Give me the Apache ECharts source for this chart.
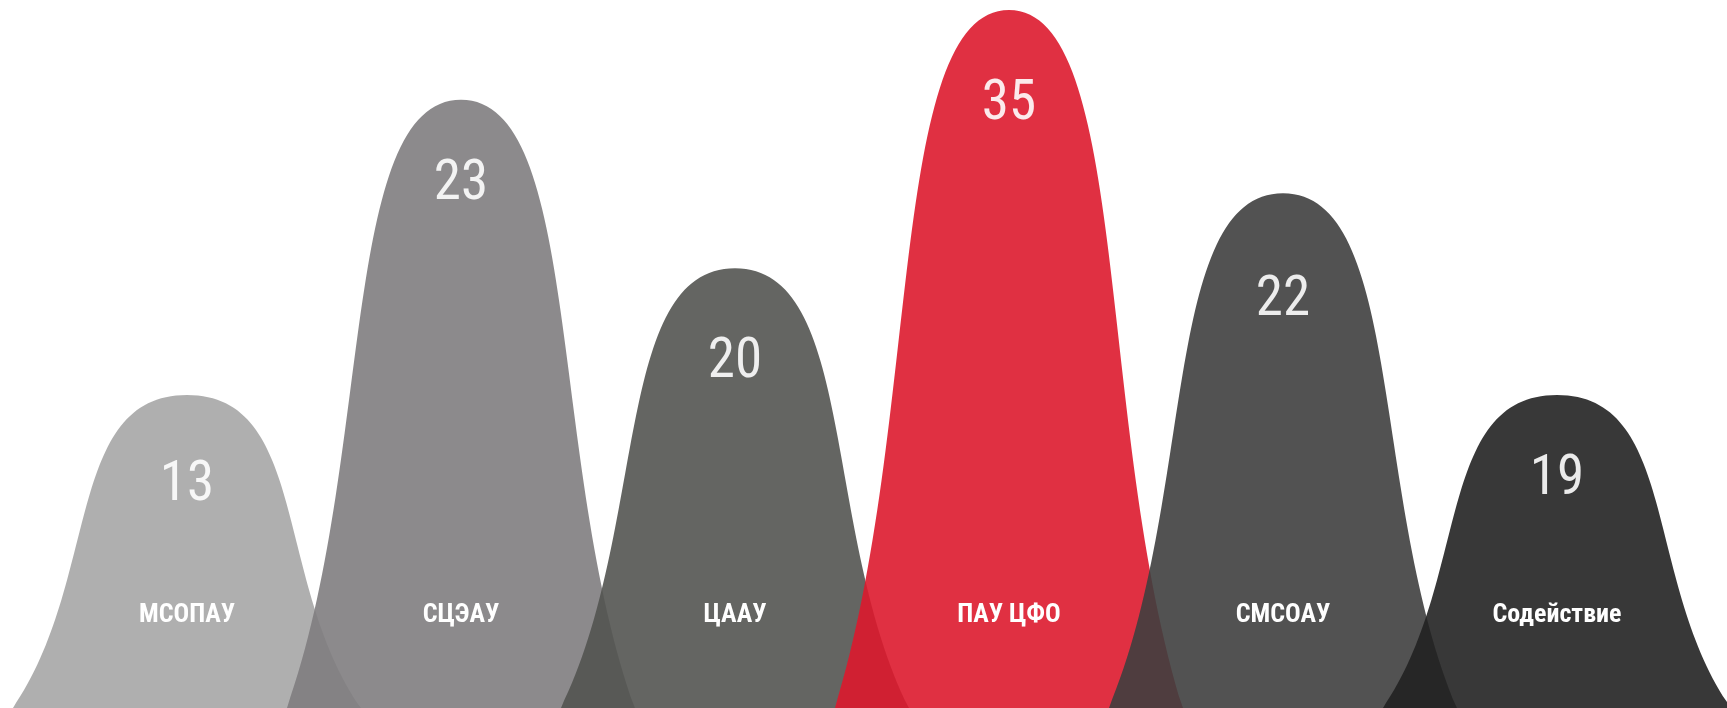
<!DOCTYPE html>
<html>
<head>
<meta charset="utf-8">
<script src="https://cdn.jsdelivr.net/npm/echarts@6/dist/echarts.min.js"></script>
<style>
html,body{margin:0;padding:0;background:#fff;}
#chart{width:1727px;height:708px;}
</style>
</head>
<body>
<div id="chart"></div>
<script>
// ---- data ----
const categories = ['МСОПАУ', 'СЦЭАУ', 'ЦААУ', 'ПАУ ЦФО', 'СМСОАУ', 'Содействие'];
const values = [13, 23, 20, 35, 22, 19];                  // numbers printed on the bells
const peakHeights = [44.2, 85.9, 62.1, 98.6, 72.7, 44.2];  // drawn height of each bell (% of plot height)

// ---- styling ----
const colors = ['#a6a6a6', '#7f7d7f', '#535451', '#dd1a2e', '#3f3f3f', '#222222'];
const labelNudge = [4, -2, 7, 8, 20, -2]; // px, vertical fine-tuning of the number labels

// bell outline (symbol shape, box 200 x 100)
const BELL = 'path://M0,100 C50,60 30,0 100,0 C170,0 150,60 200,100 Z';

const NUM_FONT = "'Roboto Condensed', 'DejaVu Sans Condensed', sans-serif";
const CAT_FONT = "'Roboto Condensed', 'DejaVu Sans Condensed', sans-serif";

const chart = echarts.init(document.getElementById('chart'));
chart.setOption({
  animation: false,
  grid: { left: 50, right: 33, top: 0, bottom: 0 },
  xAxis: {
    type: 'category',
    data: categories,
    z: 10,
    axisLine: { show: false },
    axisTick: { show: false },
    axisLabel: {
      inside: true,
      margin: 80,
      color: '#ffffff',
      fontFamily: CAT_FONT,
      fontWeight: 'bold',
      fontSize: 26
    }
  },
  yAxis: { type: 'value', min: 0, max: 100, show: false },
  series: [{
    type: 'pictorialBar',
    symbol: BELL,
    symbolSize: [348, '100%'],
    barCategoryGap: '0%',
    itemStyle: { opacity: 0.9 },
    label: {
      show: true,
      position: 'insideTop',
      color: '#ffffff',
      fontFamily: NUM_FONT,
      fontWeight: 'normal',
      fontSize: 55,
      formatter: p => String(values[p.dataIndex])
    },
    data: peakHeights.map((h, i) => ({
      value: h,
      itemStyle: { color: colors[i] },
      label: { distance: 60 + labelNudge[i] }
    }))
  }]
});
</script>
</body>
</html>
